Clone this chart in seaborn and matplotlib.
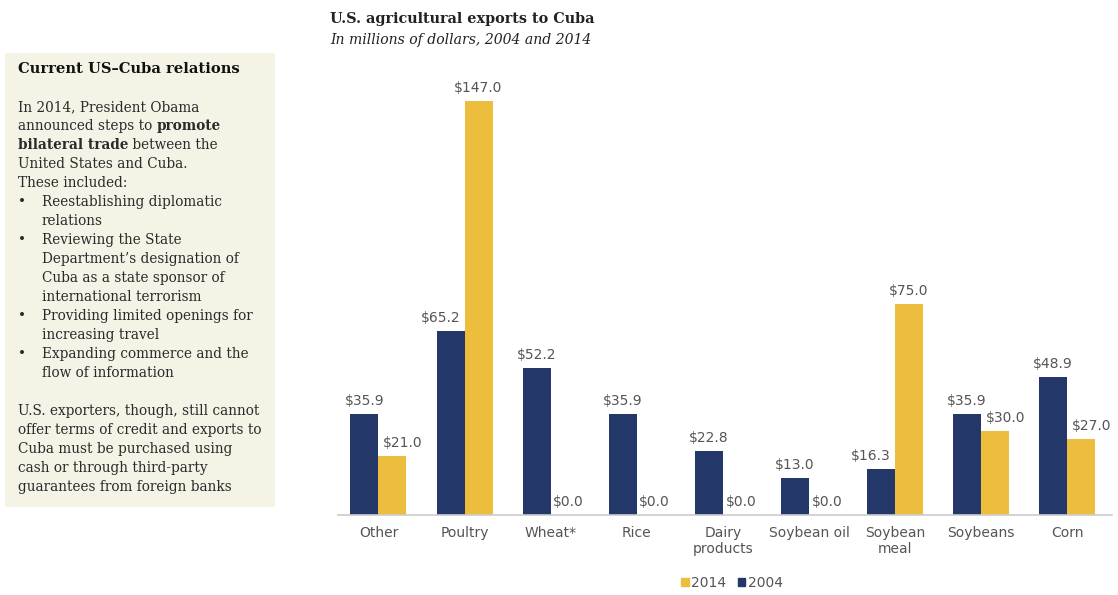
import matplotlib
matplotlib.use("Agg")
import matplotlib.pyplot as plt
from matplotlib.patches import Patch, Rectangle
import seaborn as sns
import pandas as pd

# data
categories = ["Other", "Poultry", "Wheat*", "Rice", "Dairy\nproducts", "Soybean oil",
              "Soybean\nmeal", "Soybeans", "Corn"]
exports_2004 = [35.9, 65.2, 52.2, 35.9, 22.8, 13.0, 16.3, 35.9, 48.9]
exports_2014 = [21.0, 147.0, 0.0, 0.0, 0.0, 0.0, 75.0, 30.0, 27.0]
years = ["2004", "2014"]

NAVY = "#233768"
GOLD = "#EDBD3E"
LABEL_GREY = "#555555"

df = pd.DataFrame({
    "category": categories * 2,
    "year": ["2004"] * len(categories) + ["2014"] * len(categories),
    "value": exports_2004 + exports_2014,
})

sns.set_theme(style="white")
plt.rcParams["font.family"] = ["DejaVu Sans"]

fig = plt.figure(figsize=(11.18, 5.95), dpi=100)
ax = fig.add_axes([338 / 1118, 1 - 515 / 595, (1112 - 338) / 1118, (515 - 60) / 595])

sns.barplot(data=df, x="category", y="value", hue="year", hue_order=years,
            palette={"2004": NAVY, "2014": GOLD}, width=0.65, saturation=1,
            linewidth=0, ax=ax, legend=False)

ax.set_xlim(-0.47, 8.52)
ax.set_ylim(0, 161.6)

# value labels; nudge sideways when the neighbouring bar is taller
navy_bars, gold_bars = ax.containers[0], ax.containers[1]
for i in range(len(categories)):
    a, b = exports_2004[i], exports_2014[i]
    for bar, v, other, side in [(navy_bars[i], a, b, -1), (gold_bars[i], b, a, 1)]:
        shift = 0
        if other > v:
            shift = 10 * side if v > 0 else 4
        ax.annotate(f"${v:.1f}", (bar.get_x() + bar.get_width() / 2, v),
                    xytext=(shift, 6), textcoords="offset pixels",
                    ha="center", va="bottom", fontsize=10, color=LABEL_GREY,
                    annotation_clip=False)

ax.set_xlabel("")
ax.set_ylabel("")
ax.set_yticks([])
ax.tick_params(axis="x", length=0, labelsize=10, labelcolor=LABEL_GREY, pad=8)
for side in ["top", "left", "right"]:
    ax.spines[side].set_visible(False)
ax.spines["bottom"].set_color("#cccccc")
ax.spines["bottom"].set_linewidth(1.2)

# titles
fig.text(330 / 1118, 1 - 19 / 595, "U.S. agricultural exports to Cuba", family="DejaVu Serif",
         fontsize=10.4, fontweight="bold", color="#222222", va="center")
fig.text(330 / 1118, 1 - 40 / 595, "In millions of dollars, 2004 and 2014", family="DejaVu Serif",
         fontsize=10.1, style="italic", color="#222222", va="center")

# legend
handles = [Patch(color=GOLD, label="2014"), Patch(color=NAVY, label="2004")]
leg = fig.legend(handles=handles, loc="center", bbox_to_anchor=(732 / 1118, 1 - 583 / 595),
                 ncol=2, frameon=False, handlelength=0.55, handleheight=0.55,
                 handletextpad=0.2, columnspacing=0.8, fontsize=10)
for t in leg.get_texts():
    t.set_color(LABEL_GREY)

# side note box
fig.patches.append(Rectangle((5 / 1118, 1 - 507 / 595), 270 / 1118, 454 / 595,
                             transform=fig.transFigure, facecolor="#F5F3E6",
                             edgecolor="none", zorder=0))

SERIF = "DejaVu Serif"
BODY = 9.8
renderer = fig.canvas.get_renderer()


def line(x, y, parts):
    # parts: list of (text, bold), laid out one after another
    xf = x / 1118
    for txt, bold in parts:
        t = fig.text(xf, 1 - y / 595, txt, family=SERIF, fontsize=BODY,
                     fontweight="bold" if bold else "normal", color="#2a2a2a", va="center")
        bb = t.get_window_extent(renderer=renderer)
        xf = bb.x1 / fig.bbox.width


fig.text(18 / 1118, 1 - 69 / 595, "Current US–Cuba relations", family=SERIF, fontsize=10.6,
         fontweight="bold", color="#111111", va="center")

line(18, 107, [("In 2014, President Obama", False)])
line(18, 126, [("announced steps to ", False), ("promote", True)])
line(18, 145, [("bilateral trade", True), (" between the", False)])
line(18, 164, [("United States and Cuba.", False)])
line(18, 183, [("These included:", False)])

bullets = [
    (202, "Reestablishing diplomatic", True), (221, "relations", False),
    (240, "Reviewing the State", True), (259, "Department’s designation of", False),
    (278, "Cuba as a state sponsor of", False), (297, "international terrorism", False),
    (316, "Providing limited openings for", True), (335, "increasing travel", False),
    (354, "Expanding commerce and the", True), (373, "flow of information", False),
]
for y, txt, has_dot in bullets:
    if has_dot:
        line(18, y, [("•", False)])
    line(42, y, [(txt, False)])

closing = ["U.S. exporters, though, still cannot", "offer terms of credit and exports to",
           "Cuba must be purchased using", "cash or through third-party",
           "guarantees from foreign banks"]
for i, txt in enumerate(closing):
    line(18, 411 + 19 * i, [(txt, False)])

fig.savefig("out.png", dpi=100)
